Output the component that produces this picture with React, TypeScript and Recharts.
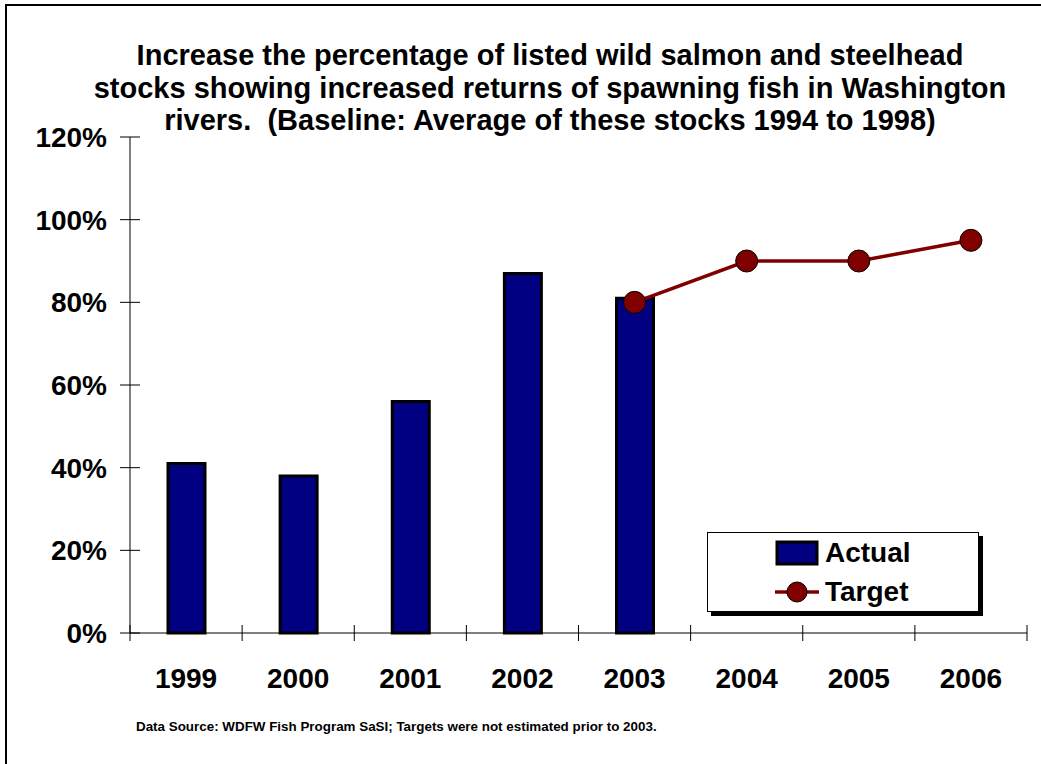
import React from 'react';
import { Bar, ComposedChart, Line, XAxis, YAxis } from 'recharts';

const years = ['1999', '2000', '2001', '2002', '2003', '2004', '2005', '2006'];
const actual: (number | null)[] = [0.41, 0.38, 0.56, 0.87, 0.81, null, null, null];
const target: (number | null)[] = [null, null, null, null, 0.8, 0.9, 0.9, 0.95];
const yTicks = [0, 0.2, 0.4, 0.6, 0.8, 1.0, 1.2];

const titleLines = [
  'Increase the percentage of listed wild salmon and steelhead',
  'stocks showing increased returns of spawning fish in Washington',
  'rivers.  (Baseline: Average of these stocks 1994 to 1998)',
];

const NAVY = '#000080';
const MAROON = '#800000';
const FONT = '"Liberation Sans", Arial, sans-serif';

const W = 1041;
const H = 764;
const PLOT_LEFT = 130;
const PLOT_RIGHT = 1027;
const HALF_BAND = (PLOT_RIGHT - PLOT_LEFT) / years.length / 2;

const data = years.map((y, i) => ({ year: y, actual: actual[i], target: target[i] }));

function YTick(props: any) {
  const { x, y, payload } = props;
  return (
    <g>
      <line x1={x + 13} x2={x + 33} y1={y} y2={y} stroke="#000" strokeWidth={1} />
      <text x={x} y={y} dy={10} textAnchor="end" fontSize={28} fontWeight="bold" fontFamily={FONT} fill="#000">
        {Math.round(payload.value * 100) + '%'}
      </text>
    </g>
  );
}

function XTick(props: any) {
  const { x, y, payload, index } = props;
  const axisY = y - 8;
  return (
    <g>
      <line x1={x - HALF_BAND} x2={x - HALF_BAND} y1={axisY - 8} y2={axisY + 8} stroke="#000" strokeWidth={1} />
      {index === years.length - 1 ? (
        <line x1={x + HALF_BAND} x2={x + HALF_BAND} y1={axisY - 8} y2={axisY + 8} stroke="#000" strokeWidth={1} />
      ) : null}
      <text x={x} y={y} dy={47} textAnchor="middle" fontSize={28} fontWeight="bold" fontFamily={FONT} fill="#000">
        {payload.value}
      </text>
    </g>
  );
}

export default function App() {
  return (
    <div style={{ position: 'absolute', left: 0, top: 0, width: W, height: H, background: '#fff', overflow: 'hidden', fontFamily: FONT }}>
      <div
        style={{
          position: 'absolute',
          left: 5,
          top: 4,
          width: 1100,
          height: 800,
          borderLeft: '2px solid #000',
          borderTop: '2px solid #000',
        }}
      />
      <div
        style={{
          position: 'absolute',
          left: 50,
          top: 39,
          width: 1000,
          textAlign: 'center',
          fontSize: 29,
          fontWeight: 'bold',
          lineHeight: '32.5px',
          color: '#000',
          whiteSpace: 'pre',
        }}
      >
        {titleLines.map((t) => (
          <div key={t}>{t}</div>
        ))}
      </div>

      <div style={{ position: 'absolute', left: 0, top: 0 }}>
        <ComposedChart width={W} height={H} data={data} margin={{ top: 137, right: W - PLOT_RIGHT, bottom: 91, left: 10 }}>
          <XAxis
            dataKey="year"
            height={40}
            tickLine={false}
            tickSize={8}
            tickMargin={0}
            axisLine={{ stroke: '#000', strokeWidth: 1 }}
            tick={<XTick />}
            interval={0}
          />
          <YAxis
            width={120}
            domain={[0, 1.2]}
            ticks={yTicks}
            tickLine={false}
            tickSize={10}
            tickMargin={13}
            axisLine={{ stroke: '#000', strokeWidth: 1 }}
            tick={<YTick />}
            interval={0}
          />
          <Bar dataKey="actual" fill={NAVY} stroke="#000" strokeWidth={3} barSize={37} isAnimationActive={false} />
          <Line
            dataKey="target"
            stroke={MAROON}
            strokeWidth={3.5}
            dot={{ r: 11, fill: MAROON, stroke: '#000', strokeWidth: 1 }}
            connectNulls={false}
            isAnimationActive={false}
          />
        </ComposedChart>
      </div>

      <div
        style={{
          position: 'absolute',
          left: 707,
          top: 532,
          width: 270,
          height: 78,
          border: '1px solid #000',
          background: '#fff',
          boxShadow: '4px 4px 0 #000',
        }}
      >
        <svg width={46} height={30} style={{ position: 'absolute', left: 66, top: 6 }}>
          <rect x={3} y={3} width={40} height={22} fill={NAVY} stroke="#000" strokeWidth={3} />
        </svg>
        <div style={{ position: 'absolute', left: 117, top: 2, fontSize: 28, fontWeight: 'bold', lineHeight: '36px' }}>Actual</div>
        <svg width={46} height={30} style={{ position: 'absolute', left: 66, top: 44 }}>
          <line x1={1} x2={45} y1={15} y2={15} stroke={MAROON} strokeWidth={3.5} />
          <circle cx={23} cy={15} r={10} fill={MAROON} stroke="#000" strokeWidth={1} />
        </svg>
        <div style={{ position: 'absolute', left: 117, top: 41, fontSize: 28, fontWeight: 'bold', lineHeight: '36px' }}>Target</div>
      </div>

      <div style={{ position: 'absolute', left: 136, top: 719, fontSize: 13.4, fontWeight: 'bold', color: '#000', whiteSpace: 'nowrap' }}>
        Data Source: WDFW Fish Program SaSI; Targets were not estimated prior to 2003.
      </div>
    </div>
  );
}
